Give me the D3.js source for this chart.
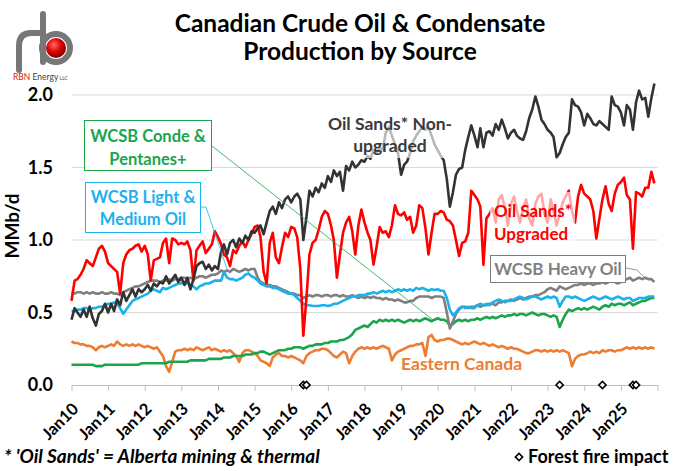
<!DOCTYPE html>
<html>
<head>
<meta charset="utf-8">
<script src="https://cdn.jsdelivr.net/npm/d3@7"></script>
<style>
  body { margin: 0; background: #fff; }
  svg { font-family: Lato, "Open Sans", sans-serif; }
</style>
</head>
<body>
<svg id="chart" width="680" height="471"></svg>
<script>
// monthly values, MMb/d, Jan 2010 .. Dec 2025
var yearLabels = ['Jan10','Jan11','Jan12','Jan13','Jan14','Jan15','Jan16','Jan17',
  'Jan18','Jan19','Jan20','Jan21','Jan22','Jan23','Jan24','Jan25'];
var yTicks = [0, 0.5, 1.0, 1.5, 2.0];

var oilSandsNonUpgraded = [
  0.45,0.53,0.50,0.47,0.52,0.47,0.54,0.46,0.41,0.49,0.51,0.56,
  0.50,0.56,0.51,0.59,0.55,0.64,0.58,0.62,0.66,0.61,0.66,0.64,
  0.66,0.69,0.65,0.70,0.68,0.71,0.70,0.75,0.70,0.73,0.76,0.71,
  0.74,0.69,0.74,0.66,0.73,0.82,0.84,0.85,0.80,0.83,0.79,0.82,
  0.80,0.92,0.97,0.90,0.98,1.00,0.95,1.01,0.98,1.03,1.00,1.06,
  1.05,1.08,1.10,1.04,1.12,1.20,1.23,1.18,1.26,1.22,1.28,1.30,
  1.26,1.30,1.32,1.28,1.00,1.16,1.34,1.30,1.36,1.33,1.39,1.36,
  1.44,1.40,1.48,1.44,1.47,1.34,1.51,1.48,1.54,1.50,1.52,1.55,
  1.54,1.58,1.56,1.62,1.60,1.64,1.62,1.74,1.78,1.72,1.66,1.60,
  1.45,1.52,1.54,1.60,1.68,1.72,1.75,1.78,1.76,1.78,1.72,1.66,
  1.62,1.58,1.55,1.42,1.23,1.33,1.45,1.49,1.50,1.62,1.71,1.79,
  1.72,1.64,1.77,1.64,1.74,1.75,1.72,1.80,1.76,1.83,1.77,1.70,
  1.74,1.76,1.72,1.70,1.69,1.75,1.84,1.90,1.99,1.92,1.83,1.80,
  1.76,1.74,1.71,1.57,1.60,1.66,1.71,1.74,1.97,1.93,1.92,1.88,
  1.79,1.87,1.84,1.80,1.79,1.82,1.80,1.78,1.76,1.99,1.93,1.92,
  1.88,1.79,1.93,1.90,1.76,1.95,2.03,1.97,1.98,1.85,1.98,2.08
];
var oilSandsUpgraded = [
  0.58,0.72,0.73,0.76,0.80,0.86,0.84,0.82,0.88,0.94,0.96,0.92,
  0.84,0.82,0.80,0.78,0.63,0.84,0.90,0.93,0.94,0.96,0.97,0.92,
  0.96,0.90,0.72,0.86,0.87,0.88,0.98,1.01,0.84,1.01,1.00,0.97,
  0.98,0.97,0.99,0.93,0.72,0.93,0.96,0.99,0.91,0.94,0.97,1.06,
  1.02,0.97,0.90,0.88,0.82,0.93,0.91,0.96,0.99,0.95,1.00,1.04,
  1.09,1.10,1.02,0.78,0.70,0.98,1.05,0.88,0.84,0.95,1.05,1.02,
  1.09,1.08,1.02,0.80,0.34,0.60,0.90,0.98,1.00,1.07,1.16,1.20,
  1.18,1.10,1.00,0.74,0.90,1.05,1.12,1.16,1.06,0.90,1.10,1.21,
  1.12,1.05,1.00,0.83,0.95,1.09,1.05,1.06,1.02,1.10,1.24,1.18,
  1.17,1.19,1.14,1.16,1.05,1.10,1.24,1.22,1.08,0.90,1.05,1.18,
  1.18,1.20,1.19,1.14,1.13,1.10,1.00,0.89,0.98,0.99,1.05,1.34,
  1.31,1.28,1.23,0.83,1.15,1.18,1.22,1.12,1.28,1.31,1.22,1.10,
  1.25,1.30,1.20,1.12,1.22,1.28,1.15,1.10,1.25,1.30,1.32,1.18,
  1.12,1.28,1.20,1.10,1.18,1.26,1.30,1.34,1.20,1.12,1.30,1.38,
  1.32,1.30,1.28,1.20,1.01,1.15,1.28,1.37,1.25,1.20,1.32,1.38,
  1.40,1.43,1.31,1.28,0.94,1.33,1.32,1.30,1.36,1.36,1.47,1.39
];
var wcsbHeavy = [
  0.64,0.63,0.64,0.64,0.63,0.64,0.63,0.64,0.63,0.63,0.64,0.63,
  0.63,0.64,0.63,0.63,0.62,0.64,0.65,0.66,0.67,0.68,0.68,0.69,
  0.70,0.71,0.72,0.72,0.72,0.71,0.72,0.72,0.73,0.72,0.73,0.73,
  0.74,0.74,0.73,0.74,0.73,0.74,0.75,0.75,0.74,0.75,0.76,0.76,
  0.77,0.79,0.78,0.79,0.78,0.80,0.79,0.78,0.79,0.80,0.79,0.80,
  0.80,0.74,0.71,0.70,0.69,0.69,0.68,0.68,0.67,0.66,0.65,0.64,
  0.63,0.63,0.62,0.62,0.60,0.61,0.62,0.61,0.62,0.62,0.61,0.62,
  0.62,0.61,0.62,0.62,0.61,0.62,0.61,0.61,0.62,0.61,0.60,0.61,
  0.60,0.61,0.60,0.61,0.60,0.60,0.59,0.60,0.59,0.59,0.58,0.59,
  0.58,0.57,0.57,0.58,0.58,0.60,0.61,0.61,0.61,0.61,0.60,0.61,
  0.61,0.61,0.60,0.50,0.39,0.44,0.49,0.52,0.54,0.54,0.53,0.54,
  0.54,0.55,0.54,0.55,0.55,0.56,0.56,0.55,0.57,0.57,0.58,0.58,
  0.59,0.58,0.59,0.60,0.59,0.60,0.61,0.61,0.62,0.62,0.63,0.64,
  0.66,0.67,0.66,0.65,0.68,0.67,0.66,0.67,0.68,0.69,0.69,0.70,
  0.69,0.70,0.70,0.69,0.70,0.70,0.71,0.70,0.71,0.72,0.71,0.70,
  0.71,0.72,0.73,0.74,0.72,0.73,0.74,0.73,0.74,0.73,0.73,0.71
];
var wcsbLightMedium = [
  0.51,0.51,0.52,0.52,0.53,0.53,0.52,0.53,0.53,0.54,0.54,0.55,
  0.56,0.56,0.57,0.56,0.53,0.49,0.52,0.55,0.58,0.59,0.60,0.61,
  0.62,0.63,0.65,0.66,0.65,0.64,0.67,0.66,0.67,0.68,0.69,0.70,
  0.70,0.71,0.70,0.69,0.68,0.66,0.68,0.69,0.70,0.70,0.71,0.72,
  0.72,0.72,0.78,0.74,0.73,0.73,0.72,0.73,0.74,0.76,0.77,0.75,
  0.74,0.72,0.70,0.69,0.68,0.68,0.67,0.67,0.66,0.65,0.64,0.63,
  0.63,0.62,0.60,0.58,0.56,0.55,0.55,0.545,0.545,0.545,0.55,0.55,
  0.545,0.55,0.56,0.56,0.57,0.58,0.59,0.60,0.61,0.61,0.62,0.62,
  0.62,0.63,0.63,0.64,0.63,0.64,0.65,0.64,0.65,0.64,0.65,0.66,
  0.65,0.66,0.65,0.66,0.65,0.67,0.66,0.67,0.66,0.65,0.66,0.655,
  0.66,0.65,0.65,0.60,0.52,0.48,0.50,0.53,0.54,0.53,0.54,0.53,
  0.53,0.55,0.56,0.55,0.56,0.55,0.57,0.58,0.59,0.58,0.57,0.58,
  0.58,0.59,0.60,0.61,0.60,0.59,0.60,0.61,0.61,0.60,0.59,0.60,
  0.61,0.60,0.61,0.60,0.54,0.58,0.61,0.61,0.60,0.61,0.60,0.59,
  0.58,0.59,0.60,0.61,0.60,0.59,0.60,0.61,0.60,0.59,0.60,0.61,
  0.60,0.59,0.60,0.60,0.58,0.59,0.60,0.60,0.60,0.61,0.61,0.61
];
var wcsbCondePentanes = [
  0.14,0.14,0.14,0.14,0.14,0.14,0.14,0.14,0.13,0.13,0.13,0.14,
  0.14,0.14,0.14,0.14,0.14,0.14,0.14,0.14,0.14,0.14,0.14,0.15,
  0.15,0.15,0.15,0.15,0.15,0.15,0.15,0.15,0.16,0.16,0.16,0.16,
  0.16,0.16,0.16,0.17,0.17,0.17,0.17,0.17,0.17,0.18,0.18,0.18,
  0.18,0.18,0.19,0.19,0.19,0.20,0.20,0.20,0.20,0.21,0.21,0.21,
  0.22,0.22,0.23,0.23,0.22,0.21,0.22,0.23,0.24,0.24,0.24,0.25,
  0.25,0.26,0.26,0.26,0.25,0.26,0.27,0.27,0.28,0.28,0.28,0.29,
  0.29,0.30,0.30,0.30,0.31,0.31,0.32,0.33,0.35,0.38,0.39,0.40,
  0.41,0.40,0.42,0.44,0.43,0.45,0.44,0.45,0.44,0.45,0.44,0.45,
  0.44,0.43,0.44,0.45,0.44,0.45,0.44,0.45,0.46,0.45,0.44,0.45,
  0.46,0.45,0.45,0.44,0.41,0.42,0.44,0.45,0.44,0.45,0.44,0.45,
  0.45,0.46,0.45,0.46,0.47,0.46,0.47,0.46,0.47,0.48,0.47,0.48,
  0.48,0.49,0.48,0.49,0.49,0.48,0.49,0.50,0.49,0.48,0.49,0.49,
  0.48,0.47,0.48,0.47,0.40,0.45,0.49,0.52,0.51,0.52,0.53,0.52,
  0.53,0.52,0.53,0.54,0.53,0.52,0.54,0.55,0.54,0.56,0.55,0.56,
  0.56,0.55,0.56,0.57,0.55,0.56,0.57,0.58,0.58,0.59,0.60,0.60
];
var easternCanada = [
  0.30,0.29,0.29,0.28,0.28,0.27,0.27,0.26,0.24,0.26,0.27,0.26,
  0.27,0.28,0.27,0.30,0.28,0.27,0.28,0.27,0.28,0.27,0.28,0.27,
  0.26,0.27,0.26,0.25,0.26,0.23,0.20,0.13,0.09,0.16,0.23,0.24,
  0.24,0.25,0.24,0.25,0.24,0.26,0.25,0.24,0.25,0.26,0.24,0.25,
  0.24,0.23,0.24,0.23,0.24,0.22,0.20,0.16,0.22,0.24,0.24,0.23,
  0.22,0.20,0.17,0.16,0.15,0.13,0.19,0.21,0.22,0.20,0.20,0.19,
  0.20,0.19,0.18,0.17,0.15,0.20,0.22,0.23,0.24,0.24,0.25,0.25,
  0.24,0.22,0.20,0.19,0.21,0.23,0.22,0.15,0.20,0.23,0.25,0.26,
  0.25,0.26,0.25,0.26,0.25,0.26,0.27,0.26,0.25,0.17,0.21,0.23,
  0.24,0.25,0.26,0.27,0.27,0.28,0.28,0.29,0.20,0.33,0.345,0.31,
  0.30,0.31,0.31,0.32,0.32,0.31,0.30,0.29,0.28,0.29,0.28,0.29,
  0.30,0.29,0.28,0.29,0.28,0.27,0.28,0.27,0.26,0.27,0.26,0.25,
  0.26,0.25,0.25,0.24,0.23,0.22,0.22,0.23,0.24,0.24,0.23,0.24,
  0.23,0.24,0.23,0.24,0.23,0.24,0.23,0.22,0.13,0.18,0.20,0.21,
  0.21,0.22,0.23,0.22,0.23,0.22,0.24,0.23,0.24,0.24,0.23,0.24,
  0.24,0.25,0.26,0.25,0.26,0.25,0.26,0.25,0.26,0.25,0.26,0.25
];
// months (from Jan10) flagged as forest fire impact
var fireMonths = [76, 77, 160, 174, 184, 185];

var monthDate = function(i) {
  return new Date(2010, i, 1);
};

var svg = d3.select('#chart');

var x = d3.scaleTime()
  .domain([new Date(2010, 0, 1), new Date(2026, 0, 1)])
  .range([71.5, 657.5]);
var y = d3.scaleLinear()
  .domain([0, 2])
  .range([385, 95]);

// gridlines
svg.append('g')
  .selectAll('line')
  .data(yTicks.filter(function(d){ return d > 0; }))
  .enter().append('line')
  .attr('x1', 71.5)
  .attr('x2', 657.5)
  .attr('y1', function(d){ return y(d); })
  .attr('y2', function(d){ return y(d); })
  .attr('stroke', '#d9d9d9')
  .attr('stroke-width', 1);

// x axis
var tickDates = d3.range(2010, 2027).map(function(yr){ return new Date(yr, 0, 1); });
var xAxis = svg.append('g')
  .attr('transform', 'translate(0,' + y(0) + ')')
  .call(d3.axisBottom(x).tickValues(tickDates).tickSize(6).tickSizeOuter(0).tickFormat(''));
xAxis.selectAll('path, line').attr('stroke', '#bfbfbf');

svg.append('g')
  .selectAll('text')
  .data(yearLabels)
  .enter().append('text')
  .attr('transform', function(d, i){
    return 'translate(' + (x(tickDates[i]) + 8) + ',410) rotate(-45)';
  })
  .attr('text-anchor', 'end')
  .attr('font-size', '16.5px')
  .attr('font-weight', 'bold')
  .attr('fill', '#000')
  .text(function(d){ return d; });

// y axis labels
svg.append('g')
  .selectAll('text')
  .data(yTicks)
  .enter().append('text')
  .attr('x', 53)
  .attr('y', function(d){ return y(d); })
  .attr('dy', '0.36em')
  .attr('text-anchor', 'end')
  .attr('font-size', '18px')
  .attr('font-weight', 'bold')
  .attr('fill', '#000')
  .text(function(d){ return d3.format('.1f')(d); });

svg.append('text')
  .attr('transform', 'translate(19,226) rotate(-90)')
  .attr('text-anchor', 'middle')
  .attr('font-size', '19px')
  .attr('font-weight', 'bold')
  .text('MMb/d');

// series
var line = d3.line()
  .x(function(d, i){ return x(monthDate(i)); })
  .y(function(d){ return y(d); });

var series = [
  { values: easternCanada, color: '#ed7d31' },
  { values: wcsbCondePentanes, color: '#1aa54b' },
  { values: wcsbHeavy, color: '#7f7f7f' },
  { values: wcsbLightMedium, color: '#1cb1ec' },
  { values: oilSandsUpgraded, color: '#ff0000' },
  { values: oilSandsNonUpgraded, color: '#333333' }
];

svg.append('g')
  .selectAll('path')
  .data(series)
  .enter().append('path')
  .attr('d', function(d){ return line(d.values); })
  .attr('fill', 'none')
  .attr('stroke', function(d){ return d.color; })
  .attr('stroke-width', 2.6)
  .attr('stroke-linejoin', 'round');

// forest fire markers
var diamond = d3.symbol().type(d3.symbolSquare).size(26);
svg.append('g')
  .selectAll('path')
  .data(fireMonths)
  .enter().append('path')
  .attr('d', diamond)
  .attr('transform', function(d){
    return 'translate(' + x(monthDate(d)) + ',' + y(0) + ') rotate(45)';
  })
  .attr('fill', '#fff')
  .attr('stroke', '#000')
  .attr('stroke-width', 1.6);

// labels
var labels = svg.append('g');

// semi transparent label areas over the lines
labels.append('rect')
  .attr('x', 325).attr('y', 108).attr('width', 135).attr('height', 50)
  .attr('fill', '#fff').attr('fill-opacity', 0.65);
labels.append('rect')
  .attr('x', 490).attr('y', 192).attr('width', 85).attr('height', 53)
  .attr('fill', '#fff').attr('fill-opacity', 0.65);

var multiText = function(lines, cx, baseY, gap, color, size, anchor) {
  var t = labels.append('text')
    .attr('font-size', size)
    .attr('font-weight', 'bold')
    .attr('fill', color)
    .attr('text-anchor', anchor || 'middle');
  lines.forEach(function(s, i){
    t.append('tspan').attr('x', cx).attr('y', baseY + i * gap).text(s);
  });
};

multiText(['Oil Sands*  Non-', 'upgraded'], 390, 130, 22, '#3a3a3a', '17.5px');
multiText(['Oil Sands*', 'Upgraded'], 494, 217, 23, '#ff0000', '17px', 'start');

// leader lines
labels.append('path')
  .attr('d', 'M212,146 L433,320')
  .attr('stroke', '#1aa54b').attr('stroke-width', 0.8).attr('fill', 'none');
labels.append('path')
  .attr('d', 'M201,207 L206,207 L228,272')
  .attr('stroke', '#1cb1ec').attr('stroke-width', 0.8).attr('fill', 'none');
labels.append('path')
  .attr('d', 'M626,268 L637,270 L647,280')
  .attr('stroke', '#7f7f7f').attr('stroke-width', 0.8).attr('fill', 'none');

labels.append('rect')
  .attr('x', 84.5).attr('y', 120.5).attr('width', 127).attr('height', 50)
  .attr('fill', '#fff').attr('stroke', '#1aa54b').attr('stroke-width', 1);
multiText(['WCSB Conde &', 'Pentanes+'], 148, 142, 23, '#1aa54b', '16.5px');

labels.append('rect')
  .attr('x', 85.5).attr('y', 182.5).attr('width', 115).attr('height', 50)
  .attr('fill', '#fff').attr('stroke', '#1cb1ec').attr('stroke-width', 1);
multiText(['WCSB Light &', 'Medium Oil'], 143, 203, 22, '#1cb1ec', '16.5px');

labels.append('rect')
  .attr('x', 490.5).attr('y', 255.5).attr('width', 135).attr('height', 27)
  .attr('fill', '#fff').attr('stroke', '#7f7f7f').attr('stroke-width', 1);
multiText(['WCSB Heavy Oil'], 558, 275, 0, '#7f7f7f', '17px');

multiText(['Eastern  Canada'], 401, 370, 0, '#ed7d31', '17.5px', 'start');

// title
multiText(['Canadian Crude Oil & Condensate', 'Production by Source'], 360, 32, 28, '#000', '24.5px');

// footnotes
svg.append('text')
  .attr('x', 4).attr('y', 463)
  .attr('font-size', '19px').attr('font-weight', 'bold').attr('font-style', 'italic')
  .text("* 'Oil Sands' = Alberta mining & thermal");
svg.append('path')
  .attr('d', diamond)
  .attr('transform', 'translate(519,457) rotate(45)')
  .attr('fill', '#fff').attr('stroke', '#000').attr('stroke-width', 1.6);
svg.append('text')
  .attr('x', 528).attr('y', 463)
  .attr('font-size', '18px').attr('font-weight', 'bold')
  .text('Forest fire impact');

// logo
var logo = svg.append('g');
var grad = svg.append('defs').append('radialGradient')
  .attr('id', 'ball').attr('cx', '40%').attr('cy', '35%').attr('r', '65%');
grad.append('stop').attr('offset', '0%').attr('stop-color', '#ff6a6a');
grad.append('stop').attr('offset', '55%').attr('stop-color', '#e00000');
grad.append('stop').attr('offset', '100%').attr('stop-color', '#7a0000');
logo.append('circle')
  .attr('cx', 56).attr('cy', 48).attr('r', 14)
  .attr('fill', 'none').attr('stroke', '#777').attr('stroke-width', 6);
logo.append('path')
  .attr('d', 'M19,70 L19,46 Q19,33 31,33 L43,33 M43,14 L43,62')
  .attr('fill', 'none').attr('stroke', '#777').attr('stroke-width', 6)
  .attr('stroke-linecap', 'round');
logo.append('circle')
  .attr('cx', 56).attr('cy', 48).attr('r', 10)
  .attr('fill', 'url(#ball)');
var logoText = logo.append('text')
  .attr('x', 13).attr('y', 80)
  .attr('font-size', '8.5px');
logoText.append('tspan').attr('fill', '#e01010').text('RBN');
logoText.append('tspan').attr('fill', '#444').text(' Energy');
logoText.append('tspan').attr('fill', '#444').attr('font-size', '5px').text(' LLC');
</script>
</body>
</html>
